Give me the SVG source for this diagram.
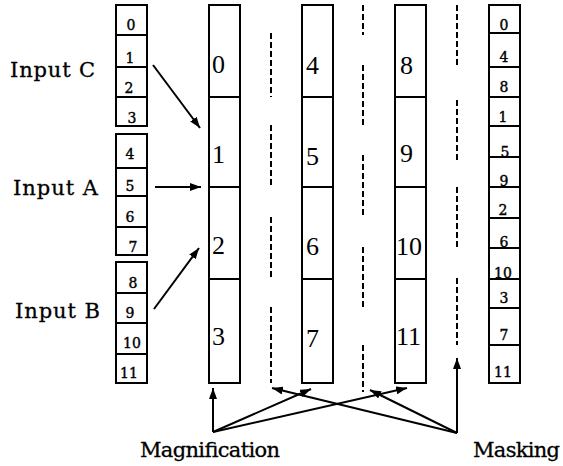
<svg xmlns="http://www.w3.org/2000/svg" width="563" height="466" viewBox="0 0 563 466">
  <style>
    .box { fill: #fff; stroke: #000; stroke-width: 2; }
    .div { stroke: #000; stroke-width: 2; }
    .dash { stroke: #000; stroke-width: 2; stroke-dasharray: 6 3; fill: none; }
    .arrow { stroke: #000; stroke-width: 2; fill: none; marker-end: url(#head); }
    .lbl { font-family: "DejaVu Serif", "Liberation Serif", serif; font-size: 21px; fill: #000; stroke: #000; stroke-width: 0.3; }
    .big { font-family: "Liberation Serif", "DejaVu Serif", serif; font-size: 26px; fill: #000; }
    .small { font-family: "DejaVu Serif", "Liberation Serif", serif; font-size: 14px; fill: #000; stroke: #000; stroke-width: 0.4; text-anchor: middle; }
  </style>
  <defs>
    <marker id="head" markerUnits="userSpaceOnUse" markerWidth="12" markerHeight="8" refX="11" refY="4" orient="auto">
      <path d="M0,0 L11,4 L0,8 z" fill="#000"/>
    </marker>
  </defs>
  <rect width="563" height="466" fill="#fff"/>

  <!-- input labels -->
  <g id="label-input-c"><text class="lbl" x="10" y="77" textLength="85">Input C</text></g>
  <g id="label-input-a"><text class="lbl" x="13" y="195" textLength="85">Input A</text></g>
  <g id="label-input-b"><text class="lbl" x="15" y="318" textLength="85">Input B</text></g>

  <!-- input stacks -->
  <g id="input-c">
    <rect class="box" x="116" y="5" width="31" height="121"/>
    <line class="div" x1="116" y1="35" x2="147" y2="35"/>
    <line class="div" x1="116" y1="67" x2="147" y2="67"/>
    <line class="div" x1="116" y1="97" x2="147" y2="97"/>
    <text class="small" x="131" y="30">0</text>
    <text class="small" x="130" y="63">1</text>
    <text class="small" x="129" y="93">2</text>
    <text class="small" x="132" y="123">3</text>
  </g>
  <g id="input-a">
    <rect class="box" x="116" y="134" width="31" height="121"/>
    <line class="div" x1="116" y1="168" x2="147" y2="168"/>
    <line class="div" x1="116" y1="196" x2="147" y2="196"/>
    <line class="div" x1="116" y1="227" x2="147" y2="227"/>
    <text class="small" x="130" y="159">4</text>
    <text class="small" x="130" y="191">5</text>
    <text class="small" x="130" y="222">6</text>
    <text class="small" x="133" y="252">7</text>
  </g>
  <g id="input-b">
    <rect class="box" x="116" y="262" width="31" height="121"/>
    <line class="div" x1="116" y1="293" x2="147" y2="293"/>
    <line class="div" x1="116" y1="323" x2="147" y2="323"/>
    <line class="div" x1="116" y1="354" x2="147" y2="354"/>
    <text class="small" x="133" y="288">8</text>
    <text class="small" x="130" y="318">9</text>
    <text class="small" x="132" y="348">10</text>
    <text class="small" x="129" y="378">11</text>
  </g>

  <!-- magnified columns -->
  <g id="column-1">
    <rect class="box" x="209" y="5" width="31" height="378"/>
    <line class="div" x1="209" y1="97" x2="240" y2="97"/>
    <line class="div" x1="209" y1="187" x2="240" y2="187"/>
    <line class="div" x1="209" y1="279" x2="240" y2="279"/>
    <text class="big" x="212" y="73">0</text>
    <text class="big" x="212" y="163">1</text>
    <text class="big" x="212" y="254">2</text>
    <text class="big" x="212" y="345">3</text>
  </g>
  <g id="column-2">
    <rect class="box" x="302" y="5" width="31" height="378"/>
    <line class="div" x1="302" y1="97" x2="333" y2="97"/>
    <line class="div" x1="302" y1="187" x2="333" y2="187"/>
    <line class="div" x1="302" y1="279" x2="333" y2="279"/>
    <text class="big" x="306" y="74">4</text>
    <text class="big" x="306" y="165">5</text>
    <text class="big" x="306" y="255">6</text>
    <text class="big" x="306" y="347">7</text>
  </g>
  <g id="column-3">
    <rect class="box" x="395" y="5" width="31" height="378"/>
    <line class="div" x1="395" y1="97" x2="426" y2="97"/>
    <line class="div" x1="395" y1="187" x2="426" y2="187"/>
    <line class="div" x1="395" y1="279" x2="426" y2="279"/>
    <text class="big" x="400" y="74">8</text>
    <text class="big" x="400" y="162">9</text>
    <text class="big" x="396" y="255">10</text>
    <text class="big" x="396" y="345">11</text>
  </g>

  <!-- masks (dashed) -->
  <g id="mask-1">
    <line class="dash" x1="271" y1="33" x2="271" y2="97"/>
    <line class="dash" x1="271" y1="125" x2="271" y2="187"/>
    <line class="dash" x1="271" y1="217" x2="271" y2="278"/>
    <line class="dash" x1="271" y1="307" x2="271" y2="383"/>
  </g>
  <g id="mask-2">
    <line class="dash" x1="363" y1="5" x2="363" y2="35"/>
    <line class="dash" x1="363" y1="65" x2="363" y2="127"/>
    <line class="dash" x1="363" y1="155" x2="363" y2="217"/>
    <line class="dash" x1="363" y1="247" x2="363" y2="308"/>
    <line class="dash" x1="363" y1="345" x2="363" y2="392"/>
  </g>
  <g id="mask-3">
    <line class="dash" x1="457" y1="5" x2="457" y2="65"/>
    <line class="dash" x1="457" y1="100" x2="457" y2="160"/>
    <line class="dash" x1="457" y1="187" x2="457" y2="248"/>
    <line class="dash" x1="457" y1="278" x2="457" y2="345"/>
  </g>

  <!-- output stack -->
  <g id="output">
    <rect class="box" x="489" y="5" width="31" height="378"/>
    <line class="div" x1="489" y1="33" x2="520" y2="33"/>
    <line class="div" x1="489" y1="67" x2="520" y2="67"/>
    <line class="div" x1="489" y1="97" x2="520" y2="97"/>
    <line class="div" x1="489" y1="126" x2="520" y2="126"/>
    <line class="div" x1="489" y1="157" x2="520" y2="157"/>
    <line class="div" x1="489" y1="187" x2="520" y2="187"/>
    <line class="div" x1="489" y1="218" x2="520" y2="218"/>
    <line class="div" x1="489" y1="248" x2="520" y2="248"/>
    <line class="div" x1="489" y1="279" x2="520" y2="279"/>
    <line class="div" x1="489" y1="308" x2="520" y2="308"/>
    <line class="div" x1="489" y1="345" x2="520" y2="345"/>
    <text class="small" x="504" y="30">0</text>
    <text class="small" x="504" y="62">4</text>
    <text class="small" x="504" y="92">8</text>
    <text class="small" x="503" y="122">1</text>
    <text class="small" x="505" y="157">5</text>
    <text class="small" x="504" y="186">9</text>
    <text class="small" x="503" y="215">2</text>
    <text class="small" x="504" y="247">6</text>
    <text class="small" x="503" y="278">10</text>
    <text class="small" x="504" y="303">3</text>
    <text class="small" x="504" y="340">7</text>
    <text class="small" x="503" y="377">11</text>
  </g>

  <!-- connectors -->
  <g id="connectors">
    <line class="arrow" x1="153" y1="65" x2="200" y2="128"/>
    <line class="arrow" x1="155" y1="187" x2="201" y2="187"/>
    <line class="arrow" x1="154" y1="309" x2="199" y2="248"/>
    <line class="arrow" x1="213" y1="432" x2="213" y2="388"/>
    <line class="arrow" x1="213" y1="432" x2="311" y2="389"/>
    <line class="arrow" x1="213" y1="432" x2="407" y2="388"/>
    <line class="arrow" x1="457" y1="433" x2="457" y2="358"/>
    <line class="arrow" x1="457" y1="433" x2="370" y2="390"/>
    <line class="arrow" x1="457" y1="433" x2="272" y2="388"/>
  </g>

  <!-- bottom labels -->
  <g id="label-magnification"><text class="lbl" x="140" y="457" textLength="140">Magnification</text></g>
  <g id="label-masking"><text class="lbl" x="473" y="457" textLength="87">Masking</text></g>
</svg>
